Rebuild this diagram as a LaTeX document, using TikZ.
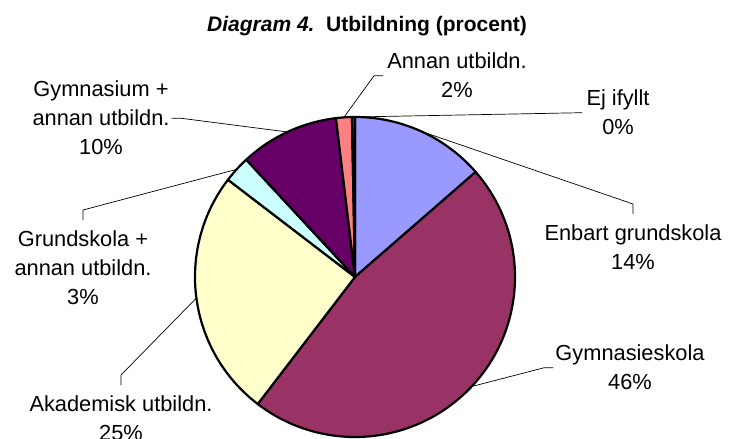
\documentclass[tikz,border=0pt]{standalone}
\usepackage{fontspec}
\setmainfont{Liberation Sans}
\usetikzlibrary{positioning}
\definecolor{enbartcol}{HTML}{9999FF}
\definecolor{gymskolacol}{HTML}{993366}
\definecolor{akadcol}{HTML}{FFFFCC}
\definecolor{grundannancol}{HTML}{CCFFFF}
\definecolor{gymannancol}{HTML}{660066}
\definecolor{annancol}{HTML}{FF8080}
\definecolor{ejcol}{HTML}{0066CC}
\begin{document}
\begin{tikzpicture}[x=1pt,y=1pt,
    slice/.style={draw=black,line width=2.2pt,line join=round},
    leader/.style={draw=black,line width=0.7pt},
    lbl/.style={align=center,inner sep=0pt,anchor=base,
      font=\fontsize{21.8}{29}\selectfont}]
    \useasboundingbox (0,0) rectangle (729,439);
    \clip (0,0) rectangle (729,439);
    \coordinate (c) at (355,162);
    % slices, clockwise from the top
    \foreach \a/\b/\col in {90/41.04/enbartcol, 41.04/-127.44/gymskolacol,
        -127.44/-217.44/akadcol, -217.44/-227.16/grundannancol,
        -227.16/-263.16/gymannancol, -263.16/-268.92/annancol,
        -268.92/-270/ejcol}
      \filldraw[slice,fill=\col] (c) -- ++(\a:160pt)
        arc[start angle=\a,end angle=\b,radius=160pt] -- cycle;
    \path (c) ++(65.52:160pt) coordinate (p-enbart);
    \path (c) ++(-43.2:160pt) coordinate (p-gymskola);
    \path (c) ++(-172.44:160pt) coordinate (p-akad);
    \path (c) ++(137.7:160pt) coordinate (p-grundannan);
    \path (c) ++(115.0:160pt) coordinate (p-gymannan);
    \path (c) ++(94.0:160pt) coordinate (p-annan);
    \path (c) ++(90.5:160pt) coordinate (p-ej);
    % title and labels (anchored at the last line)
    \node[anchor=base,font=\fontsize{21}{25}\selectfont\bfseries] (title) at (367,407)
      {\textit{Diagram 4.}\ \ Utbildning (procent)};
    \node[lbl] (annan) at (457,341) {Annan utbildn.\\2\%};
    \node[lbl] (ejifyllt) at (618,304) {Ej ifyllt\\0\%};
    \node[lbl] (enbart) at (633,169) {Enbart grundskola\\14\%};
    \node[lbl] (gymskola) at (630,49) {Gymnasieskola\\46\%};
    \node[lbl] (akad) at (121,-2) {Akademisk utbildn.\\25\%};
    \node[lbl] (grundannan) at (83,134) {Grundskola +\\annan utbildn.\\3\%};
    \node[lbl] (gymannan) at (101,284) {Gymnasium +\\annan utbildn.\\10\%};
    % leader lines
    \draw[leader] (p-annan) -- ([xshift=-13pt]annan.west) -- ([xshift=-4pt]annan.west);
    \draw[leader] (p-ej) -- ([xshift=-4pt]ejifyllt.west);
    \draw[leader] (p-enbart) -- ([yshift=21pt]enbart.north) -- ([yshift=11pt]enbart.north);
    \draw[leader] (p-gymskola) -- ([xshift=-11pt]gymskola.west) -- ([xshift=-2pt]gymskola.west);
    \draw[leader] (p-akad) -- ([yshift=21pt]akad.north) -- ([yshift=11pt]akad.north);
    \draw[leader] (p-grundannan) -- ([yshift=21pt]grundannan.north) -- ([yshift=11pt]grundannan.north);
    \draw[leader] (p-gymannan) -- ([xshift=11pt]gymannan.east) -- ([xshift=2pt]gymannan.east);
\end{tikzpicture}
\end{document}
